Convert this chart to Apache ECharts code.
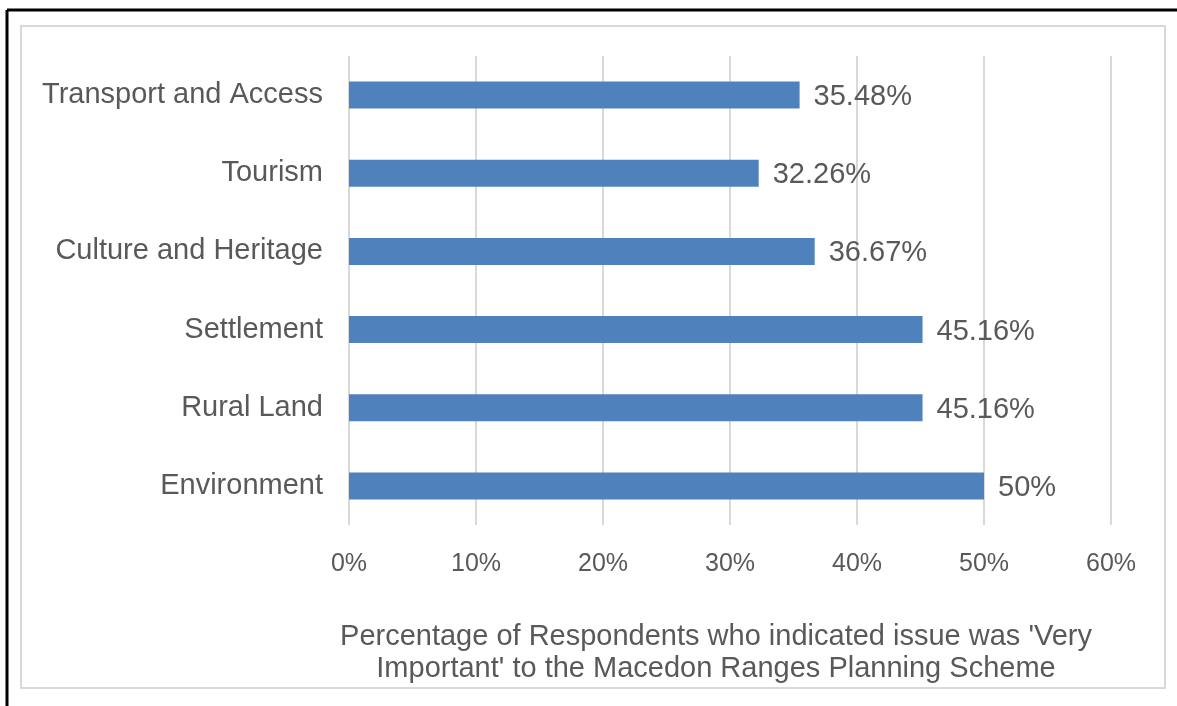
<!DOCTYPE html>
<html>
<head>
<meta charset="utf-8">
<script src="https://cdn.jsdelivr.net/npm/echarts@6/dist/echarts.min.js"></script>
<style>
  html, body { margin: 0; padding: 0; background: #fff; }
  #chart { width: 1177px; height: 706px; }
</style>
</head>
<body>
<div id="chart"></div>
<script>
const categories = ["Environment", "Rural Land", "Settlement", "Culture and Heritage", "Tourism", "Transport and Access"];
const values = [50, 45.16, 45.16, 36.67, 32.26, 35.48];
const valueLabels = ["50%", "45.16%", "45.16%", "36.67%", "32.26%", "35.48%"];
const xTicks = [0, 10, 20, 30, 40, 50, 60];
const axisTitle = "Percentage of Respondents who indicated issue was 'Very\nImportant' to the Macedon Ranges Planning Scheme";

const chart = echarts.init(document.getElementById("chart"));
const font = "Liberation Sans, Arial, sans-serif";
const textColor = "#595959";

chart.setOption({
  animation: false,
  grid: { left: 349, right: 66, top: 56, bottom: 181, containLabel: false },
  xAxis: {
    type: "value",
    min: xTicks[0],
    max: xTicks[xTicks.length - 1],
    interval: 10,
    axisLine: { show: false },
    axisTick: { show: false },
    splitLine: { show: true, lineStyle: { color: "#d9d9d9", width: 2 } },
    axisLabel: {
      formatter: (v) => v + "%",
      color: textColor,
      fontFamily: font,
      fontSize: 25,
      margin: 27
    }
  },
  yAxis: {
    type: "category",
    data: categories,
    axisLine: { show: false },
    axisTick: { show: false },
    splitLine: { show: false },
    axisLabel: {
      color: textColor,
      fontFamily: font,
      fontSize: 29,
      margin: 26,
      padding: [4, 0, 0, 0]
    }
  },
  series: [{
    type: "bar",
    data: values,
    barWidth: 27,
    itemStyle: { color: "#4f81bd" },
    label: {
      show: true,
      position: "right",
      distance: 14,
      offset: [0, 2],
      color: textColor,
      fontFamily: font,
      fontSize: 29,
      formatter: (p) => valueLabels[p.dataIndex]
    }
  }],
  graphic: [
    {
      type: "rect",
      shape: { x: 21, y: 26, width: 1144, height: 662 },
      style: { fill: null, stroke: "#d9d9d9", lineWidth: 2 },
      silent: true
    },
    {
      type: "line",
      shape: { x1: 7, y1: 10, x2: 1177, y2: 10 },
      style: { stroke: "#000", lineWidth: 3 }
    },
    {
      type: "line",
      shape: { x1: 7, y1: 10, x2: 7, y2: 706 },
      style: { stroke: "#000", lineWidth: 3 }
    },
    {
      type: "text",
      x: 716,
      y: 621,
      style: {
        text: axisTitle,
        fill: textColor,
        font: "29px " + font,
        textAlign: "center",
        lineHeight: 32
      }
    }
  ]
});
</script>
</body>
</html>
